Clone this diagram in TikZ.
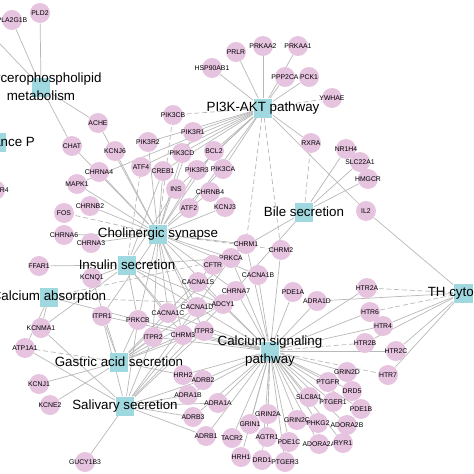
\documentclass[tikz,border=0pt]{standalone}
\usepackage{fontspec}
\setmainfont{Liberation Sans}
\usetikzlibrary{backgrounds}

\definecolor{genepink}{RGB}{230,195,223}
\definecolor{pwcyan}{RGB}{160,216,224}

\begin{document}
\begin{tikzpicture}[x=0.02cm, y=-0.02cm,
  gene/.style={circle, fill=genepink, minimum size=0.4cm, inner sep=0pt,
               font=\fontsize{3.9}{4.5}\selectfont, text=black},
  pw/.style={rectangle, fill=pwcyan, minimum size=0.38cm, inner sep=0pt},
  pwlbl/.style={font=\fontsize{7.6}{10.2}\selectfont, text=black, align=center, inner sep=0pt},
  lnk/.style={draw=black!28, line width=0.4pt},
  lnkd/.style={lnk, dash pattern=on 2.8pt off 1.6pt}
]
  \useasboundingbox (0,0) rectangle (474,474);

  % pathways
  \node[pw, label={[pwlbl]center:Glycerophospholipid\\metabolism}] (glyc) at (41,87) {};
  \node[pw, label={[pwlbl]center:Substance P}] (subp) at (-3,142) {};
  \node[pw, label={[pwlbl]center:PI3K-AKT pathway}] (pi3k) at (263,108) {};
  \node[pw, label={[pwlbl]center:Cholinergic synapse}] (chol) at (158,234) {};
  \node[pw, label={[pwlbl]center:Insulin secretion}] (insul) at (127,265) {};
  \node[pw, label={[pwlbl]center:Bile secretion}] (bile) at (304,212) {};
  \node[pw, label={[pwlbl]center:Calcium absorption}] (cabs) at (49,297) {};
  \node[pw, label={[pwlbl]center:TH cytokine}] (th) at (463,293) {};
  \node[pw, label={[pwlbl]center:Calcium signaling\\pathway}] (cal) at (270,351) {};
  \node[pw, label={[pwlbl]center:Gastric acid secretion}] (gas) at (119,362) {};
  \node[pw, label={[pwlbl]center:Salivary secretion}] (sal) at (125,406) {};
  \coordinate (offW) at (-40,2);

  % genes
  \foreach \n/\x/\y in {PLD2/40/13, PLA2G1B/12/20, ACHE/98/123, CHAT/72/146, KCNJ6/115/151,
      PIK3R2/148/142, PRKAA2/263/46, PRKAA1/298/46, PRLR/236/52, HSP90AB1/212/68,
      PPP2CA/285/77, PCK1/309/77, PIK3CB/173/115, PIK3R1/193/132, PIK3CD/182/153,
      BCL2/214/151, RXRA/311/143, YWHAE/332/98, NR1H4/346/149, SLC22A1/360/162,
      HMGCR/368/179, IL2/366/211, HTR2A/367/288, CHRNA4/99/172, ATF4/141/167,
      MAPK1/77/184, FOS/64/213, CHRNB2/90/206, CHRNA6/64/235, CHRNA3/91/243,
      FFAR1/39/266, KCNQ1/92/278, PTGER4/-5/190, CREB1/163/171, PIK3R3/197/170,
      PIK3CA/223/169, INS/176/189, CHRNB4/210/192, ATF2/189/208, KCNJ3/225/207,
      CHRM1/246/244, CHRM2/281/250, PRKCA/231/258, CFTR/213/265, CACNA1B/258/275,
      CACNA1S/198/282, CHRNA7/236/291, PDE1A/293/292, ADRA1D/317/301, ADCY1/223/304,
      CACNA1D/197/307, ITPR1/102/316, PRKCB/138/320, CACNA1C/168/313, ITPR2/153/337,
      KCNMA1/41/328, ATP1A1/25/348, KCNJ1/39/384, KCNE2/50/405, GUCY1B3/85/462,
      CHRM3/183/335, ITPR3/204/331, HRH2/183/375, ADRB2/203/380, ADRA1B/188/395,
      ADRA1A/218/403, ADRB3/193/417, ADRB1/206/436, TACR2/232/438, GRIN2A/268/414,
      GRIN1/250/424, AGTR1/267/437, HRH1/241/457, DRD1/262/460, PDE1C/289/442,
      PTGER3/285/462, SLC8A1/309/397, GRIN2C/297/420, ADORA2A/319/444, PTGFR/328/382,
      HTR6/370/312, HTR4/383/326, HTR2B/365/343, HTR2C/396/351, GRIN2D/347/372,
      HTR7/388/375, DRD5/352/391, PTGER1/333/402, PDE1B/361/409, PHKG2/318/423,
      ADORA2B/347/425, RYR1/343/443}
    \node[gene] (\n) at (\x,\y) {\makebox[0pt]{\n}};

  % links
  \begin{pgfonlayer}{background}
    \foreach \p/\g in {glyc/PLD2, glyc/PLA2G1B, glyc/ACHE, glyc/CHAT, glyc/offW,
        pi3k/PRKAA2, pi3k/PRKAA1, pi3k/PRLR, pi3k/HSP90AB1, pi3k/PPP2CA, pi3k/PCK1,
        pi3k/PIK3R1, pi3k/PIK3R2, pi3k/PIK3CD, pi3k/BCL2, pi3k/PIK3R3, pi3k/PIK3CA,
        pi3k/CREB1, pi3k/ATF4, pi3k/INS, pi3k/ATF2, pi3k/RXRA, pi3k/IL2, pi3k/MAPK1,
        chol/CHAT, chol/ACHE, chol/KCNJ6, chol/CHRNA4, chol/MAPK1, chol/CHRNB2,
        chol/CHRNA6, chol/CHRNA3, chol/PIK3R2, chol/CREB1, chol/PIK3CD, chol/PIK3R1,
        chol/BCL2, chol/PIK3R3, chol/PIK3CA, chol/CHRNB4, chol/KCNJ3, chol/CHRM1,
        chol/PRKCA, chol/CACNA1B, chol/CHRNA7, chol/ADCY1, chol/CACNA1D, chol/CACNA1C,
        chol/PRKCB, chol/ITPR1, chol/ITPR2, chol/ITPR3, chol/CHRM3,
        insul/FFAR1, insul/KCNQ1, insul/INS, insul/CREB1, insul/ADCY1, insul/PRKCA,
        insul/PRKCB, insul/CACNA1C, insul/CACNA1D, insul/CHRM3, insul/KCNMA1,
        cal/ITPR1, cal/ITPR2, cal/ITPR3, cal/PRKCB, cal/PRKCA, cal/CACNA1C, cal/CACNA1D,
        cal/CACNA1S, cal/CACNA1B, cal/CHRNA7, cal/ADCY1, cal/CHRM1, cal/CHRM2, cal/CHRM3,
        cal/PDE1A, cal/ADRA1D, cal/HRH2, cal/ADRB2, cal/ADRA1B, cal/ADRA1A, cal/ADRB3,
        cal/ADRB1, cal/TACR2, cal/GRIN1, cal/AGTR1, cal/HRH1, cal/DRD1, cal/PDE1C,
        cal/PTGER3, cal/SLC8A1, cal/GRIN2C, cal/ADORA2A, cal/PTGFR, cal/HTR6, cal/HTR4,
        cal/HTR2C, cal/GRIN2D, cal/DRD5, cal/PTGER1, cal/PDE1B, cal/PHKG2, cal/ADORA2B,
        cal/RYR1, cal/HTR2A,
        bile/NR1H4, bile/SLC22A1, bile/HMGCR, bile/CFTR, bile/ADCY1,
        th/IL2, th/HTR4, th/HTR2B, th/HTR2C, th/HTR7, th/ADRA1D,
        gas/KCNJ1, gas/KCNE2, gas/KCNQ1, gas/ITPR1, gas/PRKCB, gas/CHRM3, gas/HRH2,
        gas/CACNA1D, gas/ADCY1, gas/ITPR2, gas/ITPR3, gas/PRKCA, gas/CFTR,
        sal/ATP1A1, sal/KCNMA1, sal/GUCY1B3, sal/ITPR1, sal/ITPR2, sal/ITPR3, sal/PRKCB,
        sal/PRKCA, sal/CHRM3, sal/ADRB1, sal/ADRB2, sal/ADRB3, sal/ADRA1A, sal/ADRA1B,
        sal/ADCY1,
        cabs/ATP1A1, cabs/KCNMA1, cabs/PRKCB}
      \draw[lnk] (\p) -- (\g);
    \foreach \p/\g in {pi3k/PIK3CB, pi3k/YWHAE, pi3k/CHRM1, pi3k/CHRM2, chol/PIK3CB,
        chol/FOS, chol/CHRM2, insul/ATF4, bile/RXRA, th/HTR2A, th/HTR6, cal/GRIN2A,
        cal/HTR2B, cal/HTR7, gas/ATP1A1, cabs/ADCY1, cabs/PRKCA}
      \draw[lnkd] (\p) -- (\g);
  \end{pgfonlayer}
\end{tikzpicture}
\end{document}
